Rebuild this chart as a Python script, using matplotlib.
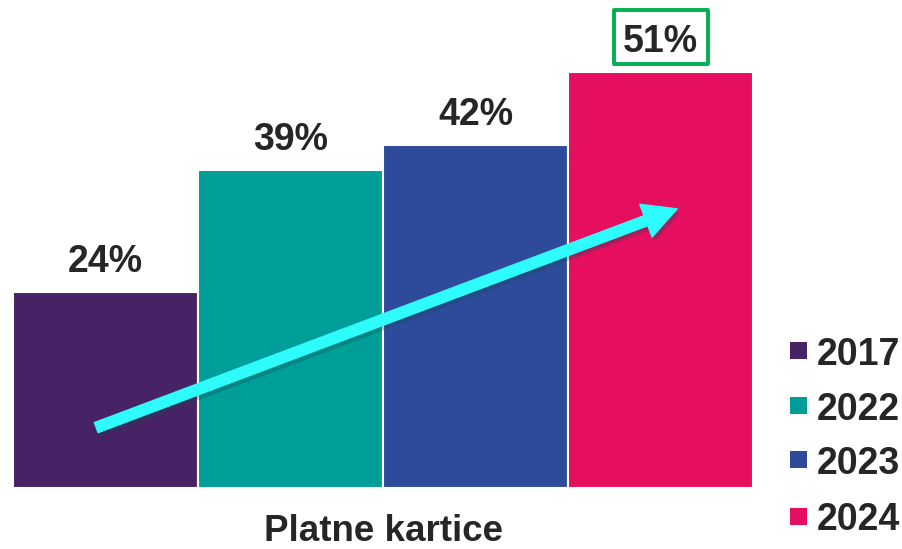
import matplotlib as mpl
import matplotlib.pyplot as plt
import matplotlib.patheffects as pe

years = ['2017', '2022', '2023', '2024']
values = [24, 39, 42, 51]
colors = ['#472365', '#009E99', '#2E4A9B', '#E50E5F']
category = 'Platne kartice'

mpl.rcParams['font.family'] = ['Liberation Sans', 'DejaVu Sans']

W, H = 902, 549
dpi = 100
fig = plt.figure(dpi=dpi, figsize=(W / dpi, H / dpi))
ax = fig.add_axes([13 / W, 61 / H, 740 / W, 488 / H])

xs = range(len(years))
ax.bar(xs, values, width=1.0, color=colors, edgecolor='white',
       linewidth=1.5, zorder=2)
ax.set_xlim(-0.5, 3.5)
ax.set_ylim(0, 59.8)
for s in ax.spines.values():
    s.set_visible(False)
ax.set_xticks([])
ax.set_yticks([])

for i, (x, v) in enumerate(zip(xs, values)):
    ax.annotate(f'{v}%', (x, v), xytext=(0, 20), textcoords='offset pixels',
                ha='center', va='baseline', fontsize=27, fontweight='bold',
                color='#262626', zorder=4)

# зелёная рамка вокруг последнего значения
ppx = 59.8 / 488
last = len(values) - 1
ax.add_patch(mpl.patches.Rectangle((last - 47 / 740 * 4, values[-1] + 8 * ppx),
                                   94 / 740 * 4, 54 * ppx, facecolor='white',
                                   edgecolor='#00B050', linewidth=2.8,
                                   joinstyle='round', clip_on=False, zorder=3))

# стрелка тренда
ax.annotate('', xy=(3.09, 34.2), xytext=(-0.05, 7.4),
            arrowprops=dict(arrowstyle='simple,head_length=1.0,head_width=1.05,tail_width=0.32',
                            color='#2EFCFC', mutation_scale=24, shrinkA=0, shrinkB=0,
                            path_effects=[pe.SimplePatchShadow(offset=(2, -3), alpha=0.3),
                                          pe.Normal()]),
            zorder=5)

ax.annotate(category, (1.5, 0), xytext=(0, -53), textcoords='offset pixels',
            ha='center', va='baseline', fontsize=26.5, fontweight='bold',
            color='#262626', annotation_clip=False)

# легенда вручную
row_y = [351, 405.5, 460, 516.5]
for c, name, yc in zip(colors, years, row_y):
    fig.patches.append(mpl.patches.Rectangle((790 / W, 1 - (yc + 8) / H), 17 / W, 17 / H,
                                             transform=fig.transFigure, facecolor=c,
                                             edgecolor='none'))
    fig.text(817 / W, 1 - (yc + 14) / H, name, ha='left', va='baseline',
             fontsize=27, fontweight='bold', color='#262626')

fig.savefig('out.png')
